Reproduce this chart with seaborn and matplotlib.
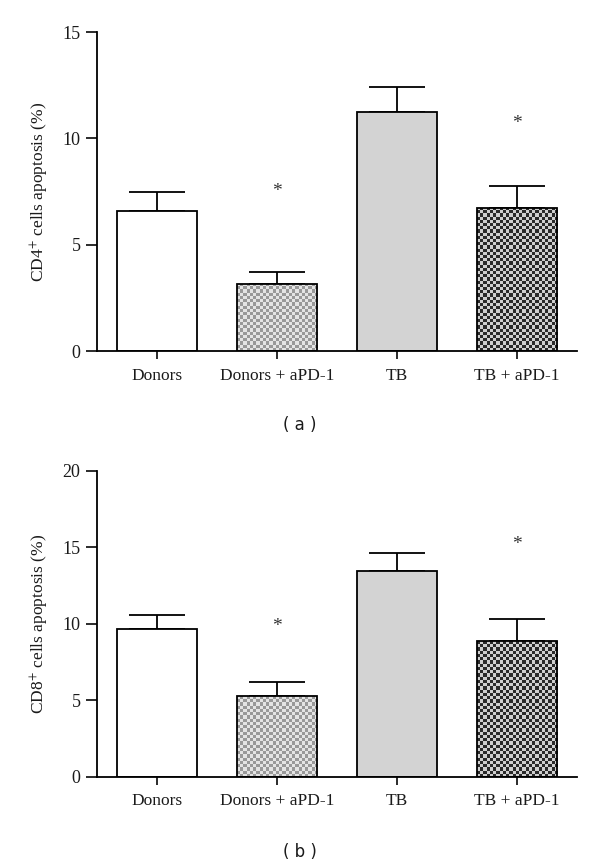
import numpy as np
import pandas as pd
import matplotlib
matplotlib.use("Agg")
import matplotlib.pyplot as plt
import seaborn as sns

categories = ["Donors", "Donors + aPD-1", "TB", "TB + aPD-1"]
cd4_mean = [6.58, 3.15, 11.25, 6.75]
cd4_err = [0.90, 0.56, 1.17, 1.00]
cd4_star = [None, 7.5, None, 10.7]
cd8_mean = [9.65, 5.25, 13.45, 8.85]
cd8_err = [0.95, 0.95, 1.15, 1.45]
cd8_star = [None, 9.8, None, 15.2]

sns.set_theme(style="ticks")
plt.rcParams["font.family"] = ["Liberation Serif", "DejaVu Serif"]
plt.rcParams["mathtext.fontset"] = "stix"
plt.rcParams["text.color"] = "#1a1a1a"
plt.rcParams["xtick.color"] = "#1a1a1a"
plt.rcParams["ytick.color"] = "#1a1a1a"
plt.rcParams["axes.labelcolor"] = "#1a1a1a"

fills = ["white", "#b8b8b8", "#d3d3d3", "#808080"]
checker = [None, ("#999999", "#e4e4e4"), None, ("#2a2a2a", "#cfcfcf")]

fig = plt.figure(figsize=(6, 8.67), dpi=100)
ax_a = fig.add_axes([0.162, 0.595, 0.80, 0.368])
ax_b = fig.add_axes([0.162, 0.104, 0.80, 0.353])


def checker_fill(ax, patch, colors, cell_px=3.2):
    from matplotlib.colors import to_rgb
    x0, y0 = patch.get_x(), patch.get_y()
    w, h = patch.get_width(), patch.get_height()
    p0 = ax.transData.transform((x0, y0))
    p1 = ax.transData.transform((x0 + w, y0 + h))
    nx = max(1, int(round(abs(p1[0] - p0[0]) / cell_px)))
    ny = max(1, int(round(abs(p1[1] - p0[1]) / cell_px)))
    ii, jj = np.indices((ny, nx))
    mask = (ii + jj) % 2
    c0, c1 = np.array(to_rgb(colors[0])), np.array(to_rgb(colors[1]))
    img = np.where(mask[..., None] == 1, c0, c1)
    im = ax.imshow(img, extent=(x0, x0 + w, y0, y0 + h), origin="lower",
                   interpolation="nearest", aspect="auto",
                   zorder=patch.get_zorder() - 0.05)
    im.set_clip_path(patch)
    patch.set_facecolor("none")


def panel(ax, means, errs, stars, ymax, ylabel):
    df = pd.DataFrame({"group": categories, "value": means})
    sns.barplot(data=df, x="group", y="value", hue="group", palette=fills,
                legend=False, width=0.67, edgecolor="black", linewidth=1.3,
                ax=ax, zorder=2)
    ax.set_xlim(-0.5, 3.5)
    ax.set_ylim(0, ymax)
    for i, p in enumerate(ax.patches):
        if checker[i] is not None:
            checker_fill(ax, p, checker[i])
    ax.errorbar(range(len(categories)), means, yerr=[np.zeros(len(errs)), errs],
                fmt="none", ecolor="black", elinewidth=1.3, capsize=20,
                capthick=1.3, zorder=1)
    for i, s in enumerate(stars):
        if s is not None:
            ax.text(i, s, "*", ha="center", va="center", fontsize=14, color="#333333")
    ax.set_yticks(np.arange(0, ymax + 1, 5))
    ax.set_xlabel("")
    ax.set_ylabel(ylabel, fontsize=12.5, labelpad=8)
    ax.tick_params(axis="y", length=8, width=1.3, labelsize=13, pad=4)
    ax.tick_params(axis="x", length=6, width=1.3, labelsize=12.5, pad=6)
    for s in ["top", "right"]:
        ax.spines[s].set_visible(False)
    for s in ["left", "bottom"]:
        ax.spines[s].set_linewidth(1.3)
        ax.spines[s].set_color("black")


panel(ax_a, cd4_mean, cd4_err, cd4_star, 15, "CD4$^{+}$ cells apoptosis (%)")
panel(ax_b, cd8_mean, cd8_err, cd8_star, 20, "CD8$^{+}$ cells apoptosis (%)")

fig.text(0.5, 1 - 425 / 867, "( a )", ha="center", va="center", fontsize=12,
         family=["DejaVu Sans"])
fig.text(0.5, 1 - 852 / 867, "( b )", ha="center", va="center", fontsize=12,
         family=["DejaVu Sans"])

fig.savefig("out.png", dpi=100)
